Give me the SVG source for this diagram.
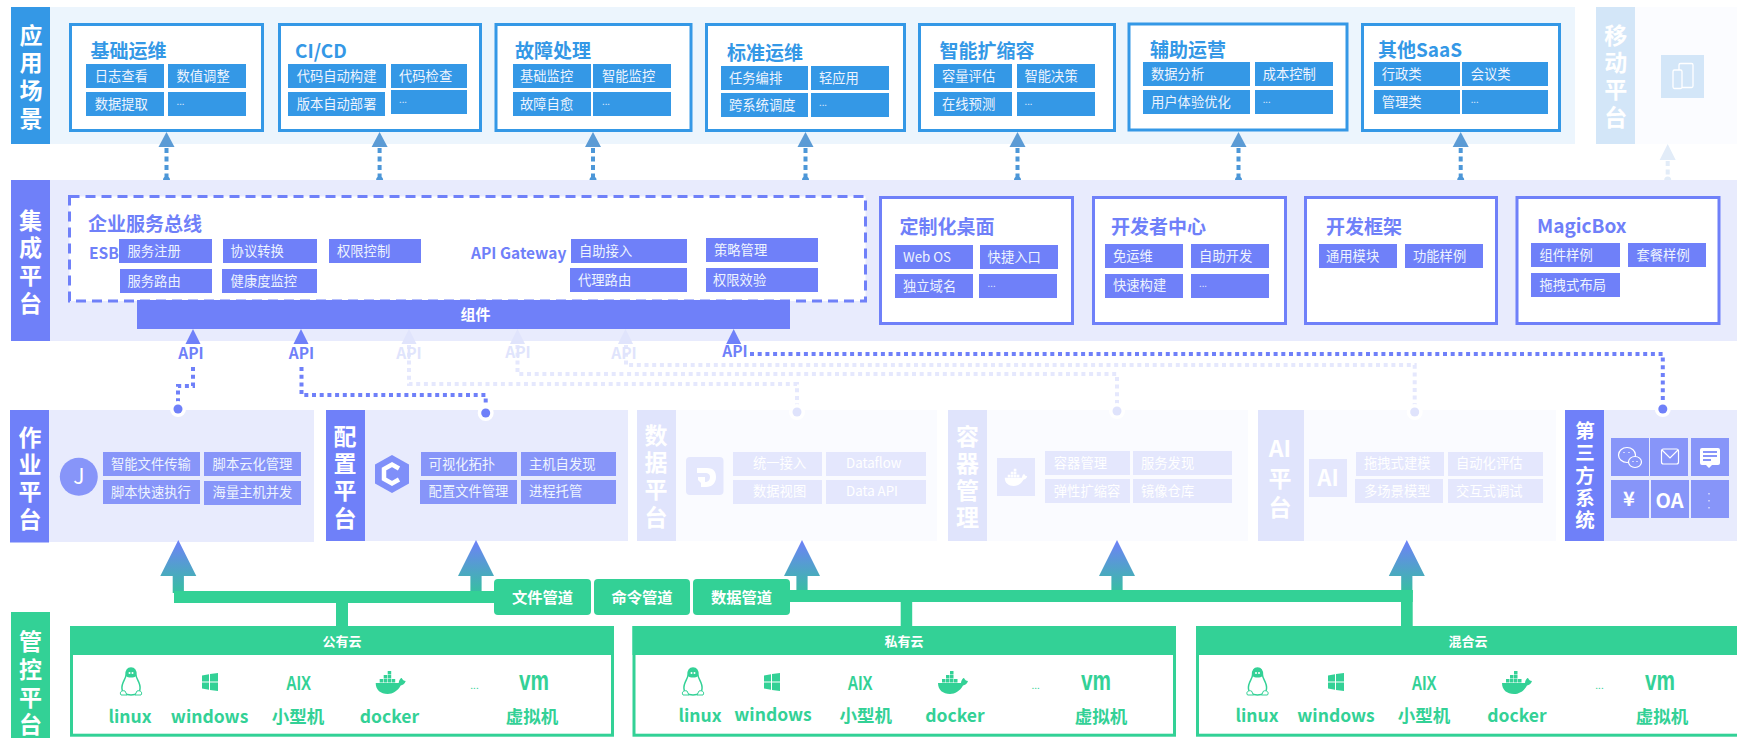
<svg xmlns="http://www.w3.org/2000/svg" xmlns:xlink="http://www.w3.org/1999/xlink" width="1737" height="738" viewBox="0 0 1737 738">
<style>
text{font-family:"Noto Sans CJK SC","Noto Sans",sans-serif}
.side{font-size:23px;font-weight:700;fill:#fff}
.v{writing-mode:vertical-rl;text-orientation:upright}
.sub{font-size:13.3px;fill:#eef4fe}
.el{font-size:9.500px;fill:#eef4fe}
.ttl{font-size:19px;font-weight:700}
.b{fill:#3498e6}.bt{fill:#3498e6}.bbox{fill:#fff;stroke:#3498e6;stroke-width:3}
.p{fill:#6f80f9}.pbox{fill:#fff;stroke:#6f80f9;stroke-width:3}.pt{fill:#6f80f9}
.l{fill:#8795f9}
.f{fill:#e4e7fd}.ft{font-size:13.3px;fill:#fff}
.band{fill:#e8ebfd}.faint{fill:#fafbff}.fl{fill:#e0e4fc}
.g{fill:#33d196}.gt{font-size:17.5px;font-weight:700;fill:#33d196;text-anchor:middle}
.gh{font-size:13px;font-weight:700;fill:#fff;text-anchor:middle}
.pipe{font-size:15.3px;font-weight:700;fill:#fff;text-anchor:middle}
.aix{font-family:"Liberation Sans",sans-serif;font-size:20px;font-weight:700;fill:#33d196;text-anchor:middle}
.vm{font-family:"Liberation Sans",sans-serif;font-size:28px;font-weight:700;fill:#33d196;text-anchor:middle}
.api{font-size:15.500px;font-weight:700;text-anchor:middle}
.gw{font-size:15.500px;font-weight:700;fill:#6f80f9}
.dot{fill:none;stroke-width:4;stroke-dasharray:4 3.700}
.dotb{fill:none;stroke-width:4;stroke-dasharray:5 3.500}
</style>
<defs>
<linearGradient id="grad" x1="0" y1="0" x2="0" y2="1"><stop offset="0" stop-color="#6f80f9"/><stop offset="1" stop-color="#36c0a0"/></linearGradient>
<path id="bigArrow" d="M0 0L18 36H5.6V53H-5.6V36H-18Z" fill="url(#grad)"/>
<path id="upB" d="M0 0L8 15H-8Z" fill="#5b9bd5"/>
<path id="upP" d="M0 0L7.500 15H-7.500Z"/>
<path id="dome" d="M-3.500 0A3.500 3.500 0 0 1 3.500 0Z"/>
<g id="tux"><path d="M0 0C-4 0-5 3-5 7C-5 11-10 15-9 21C-9 24-6 27 0 27C6 27 9 24 9 21C10 15 5 11 5 7C5 3 4 0 0 0Z" fill="#fff" stroke="#33d196" stroke-width="1.500"/><path d="M0 0C-4 0-5 3-5 8C-3 10 3 10 5 8C5 3 4 0 0 0Z" fill="#33d196"/><circle cx="-1.500" cy="5" r="1" fill="#fff"/><circle cx="1.500" cy="5" r="1" fill="#fff"/><path d="M-10 27C-12 24-9 22-6 23L-4 27ZM10 27C12 24 9 22 6 23L4 27Z" fill="#fff" stroke="#33d196"/></g>
<path id="win" d="M-8-6.500L-1-7.700V-.5H-8ZM0-7.900L8-9V-.5H0ZM-8 .5H-1V7.700L-8 6.500ZM0 .5H8V9L0 7.900Z" fill="#33d196"/>
<g id="dock"><path d="M-15 1H8C8-2 10-4 11-4C12-2 13-1 15-1C14 2 12 3 10 3.500C7 9 2 12-3 12C-10 12-15 8-15 1Z"/><rect x="-11" y="-3" width="3.500" height="3.500"/><rect x="-7" y="-3" width="3.500" height="3.500"/><rect x="-3" y="-3" width="3.500" height="3.500"/><rect x="1" y="-3" width="3.500" height="3.500"/><rect x="-7" y="-7" width="3.500" height="3.500"/><rect x="-3" y="-7" width="3.500" height="3.500"/><rect x="-3" y="-11" width="3.500" height="3.500"/></g>
</defs>
<rect width="1737" height="738" fill="#fff"/>

<g id="layer-app">
<rect x="50" y="7" width="1525" height="137" fill="#ecf5fd"/>
<rect x="11" y="7" width="39" height="137" class="b"/>
<text class="side v" x="31" y="23.500" letter-spacing="4.600">应用场景</text>
</g>
<g id="node-jichu">
<rect class="bbox" x="70.500" y="24.500" width="192" height="106"/>
<text class="ttl bt" x="90.600" y="58">基础运维</text>
<rect class="b" x="86" y="64" width="78" height="24"/><rect class="b" x="168" y="64" width="78" height="24"/><rect class="b" x="86" y="92" width="78" height="24"/><rect class="b" x="168" y="92" width="78" height="24"/>
<text class="sub" x="94.700" y="81">日志查看</text><text class="sub" x="176.500" y="81">数值调整</text><text class="sub" x="94.700" y="109">数据提取</text><text class="el" x="176.500" y="105">...</text>
</g>
<g id="node-cicd">
<rect class="bbox" x="279.500" y="24.500" width="201" height="106"/>
<text class="ttl bt" x="295" y="58">CI/CD</text>
<rect class="b" x="288" y="64" width="98" height="24"/><rect class="b" x="391" y="64" width="76" height="24"/><rect class="b" x="288" y="92" width="97" height="24"/><rect class="b" x="391" y="90" width="76" height="24"/>
<text class="sub" x="296.700" y="81">代码自动构建</text><text class="sub" x="399" y="81">代码检查</text><text class="sub" x="296.700" y="109">版本自动部署</text><text class="el" x="399" y="103">...</text>
</g>
<g id="node-guzhang">
<rect class="bbox" x="496" y="24.500" width="195" height="106"/>
<text class="ttl bt" x="515" y="58">故障处理</text>
<rect class="b" x="513" y="64" width="78" height="24"/><rect class="b" x="593" y="64" width="78" height="24"/><rect class="b" x="513" y="92" width="78" height="24"/><rect class="b" x="593" y="92" width="78" height="24"/>
<text class="sub" x="520" y="81">基础监控</text><text class="sub" x="602" y="81">智能监控</text><text class="sub" x="520" y="109">故障自愈</text><text class="el" x="602" y="105">...</text>
</g>
<g id="node-biaozhun">
<rect class="bbox" x="706.500" y="24.500" width="198" height="106"/>
<text class="ttl bt" x="727" y="60">标准运维</text>
<rect class="b" x="721" y="66" width="87" height="24"/><rect class="b" x="811" y="66" width="78" height="24"/><rect class="b" x="721" y="93" width="87" height="24"/><rect class="b" x="811" y="93" width="78" height="24"/>
<text class="sub" x="729" y="83">任务编排</text><text class="sub" x="819" y="83">轻应用</text><text class="sub" x="729" y="110">跨系统调度</text><text class="el" x="819" y="106">...</text>
</g>
<g id="node-kuosuo">
<rect class="bbox" x="919.500" y="24.500" width="195" height="106"/>
<text class="ttl bt" x="939.500" y="58">智能扩缩容</text>
<rect class="b" x="934" y="64" width="78" height="24"/><rect class="b" x="1017" y="64" width="78" height="24"/><rect class="b" x="934" y="92" width="78" height="24"/><rect class="b" x="1017" y="92" width="78" height="24"/>
<text class="sub" x="942" y="81">容量评估</text><text class="sub" x="1024.500" y="81">智能决策</text><text class="sub" x="942" y="109">在线预测</text><text class="el" x="1024.500" y="105">...</text>
</g>
<g id="node-fuzhu">
<rect class="bbox" x="1129" y="24" width="218" height="106"/>
<text class="ttl bt" x="1150" y="57">辅助运营</text>
<rect class="b" x="1143" y="62" width="107" height="24"/><rect class="b" x="1255" y="62" width="78" height="24"/><rect class="b" x="1143" y="90" width="107" height="24"/><rect class="b" x="1255" y="90" width="78" height="24"/>
<text class="sub" x="1151" y="79">数据分析</text><text class="sub" x="1262.700" y="79">成本控制</text><text class="sub" x="1151" y="107">用户体验优化</text><text class="el" x="1262.700" y="103">...</text>
</g>
<g id="node-saas">
<rect class="bbox" x="1362.500" y="24.500" width="197" height="106"/>
<text class="ttl bt" x="1378" y="57">其他SaaS</text>
<rect class="b" x="1374" y="62" width="86" height="24"/><rect class="b" x="1462" y="62" width="86" height="24"/><rect class="b" x="1374" y="90" width="86" height="24"/><rect class="b" x="1462" y="90" width="86" height="24"/>
<text class="sub" x="1381.700" y="79">行政类</text><text class="sub" x="1470.700" y="79">会议类</text><text class="sub" x="1381.700" y="107">管理类</text><text class="el" x="1470.700" y="103">...</text>
</g>
<g id="node-mobile">
<rect x="1635" y="7" width="102" height="137" fill="#fbfcff"/>
<rect x="1596" y="7" width="39" height="137" fill="#d3e6f8"/>
<text class="side v" x="1615.700" y="23.500" letter-spacing="4.300">移动平台</text>
<rect x="1661" y="55" width="43" height="43" fill="#d3e6f8"/>
<rect x="1679" y="63.500" width="14" height="24" rx="1.500" fill="none" stroke="#fff" stroke-width="1.300"/>
<rect x="1673" y="70" width="9" height="18.500" rx="1.500" fill="#d3e6f8" stroke="#fff" stroke-width="1.300"/>
</g>

<g id="layer-integration">
<rect x="50" y="180" width="1687" height="161" class="band"/>
<rect x="11" y="180" width="39" height="161" class="p"/>
<text class="side v" x="30.600" y="208.500" letter-spacing="4.600">集成平台</text>
</g>
<g id="node-esb">
<rect x="69.500" y="196.500" width="796" height="104.500" fill="#fff" stroke="#6f80f9" stroke-width="3" stroke-dasharray="10 6"/>
<text class="ttl pt" x="88" y="230.500">企业服务总线</text>
<text class="gw" x="89" y="259">ESB</text>
<text class="gw" x="471" y="259">API Gateway</text>
<rect class="p" x="119" y="239" width="93" height="24"/><rect class="p" x="223" y="239" width="94" height="24"/><rect class="p" x="329" y="239" width="92" height="24"/><rect class="p" x="120" y="269" width="92" height="24"/><rect class="p" x="222" y="269" width="95" height="24"/>
<rect class="p" x="571" y="239" width="116" height="24"/><rect class="p" x="570" y="268" width="117" height="24"/><rect class="p" x="706" y="238" width="112" height="24"/><rect class="p" x="706" y="268" width="112" height="24"/>
<text class="sub" x="127.500" y="256">服务注册</text><text class="sub" x="230.600" y="256">协议转换</text><text class="sub" x="337" y="256">权限控制</text><text class="sub" x="127.500" y="286">服务路由</text><text class="sub" x="230.600" y="286">健康度监控</text>
<text class="sub" x="579" y="256">自助接入</text><text class="sub" x="578" y="285">代理路由</text><text class="sub" x="714" y="255">策略管理</text><text class="sub" x="713" y="285">权限效验</text>
</g>
<g id="node-zujian">
<rect class="p" x="137" y="300" width="653" height="29"/>
<text x="475.500" y="320" font-size="15" font-weight="700" fill="#fff" text-anchor="middle">组件</text>
</g>
<g id="node-desktop">
<rect class="pbox" x="880.500" y="197.500" width="192" height="126"/>
<text class="ttl pt" x="899.600" y="234">定制化桌面</text>
<rect class="p" x="895" y="245" width="78" height="24"/><rect class="p" x="980" y="245" width="78" height="24"/><rect class="p" x="895" y="274" width="78" height="24"/><rect class="p" x="979" y="274" width="78" height="24"/>
<text class="sub" x="903" y="262">Web OS</text><text class="sub" x="987.600" y="262">快捷入口</text><text class="sub" x="903" y="291">独立域名</text><text class="el" x="987.600" y="287">...</text>
</g>
<g id="node-dev">
<rect class="pbox" x="1093.500" y="197.500" width="192" height="126"/>
<text class="ttl pt" x="1111" y="234">开发者中心</text>
<rect class="p" x="1105" y="244" width="78" height="24"/><rect class="p" x="1191" y="244" width="78" height="24"/><rect class="p" x="1105" y="274" width="78" height="24"/><rect class="p" x="1191" y="274" width="78" height="24"/>
<text class="sub" x="1113" y="261">免运维</text><text class="sub" x="1199" y="261">自助开发</text><text class="sub" x="1113" y="290">快速构建</text><text class="el" x="1199" y="287">...</text>
</g>
<g id="node-framework">
<rect class="pbox" x="1305.500" y="197.500" width="191" height="126"/>
<text class="ttl pt" x="1326" y="234">开发框架</text>
<rect class="p" x="1319" y="244" width="78" height="24"/><rect class="p" x="1405" y="244" width="78" height="24"/>
<text class="sub" x="1326" y="261">通用模块</text><text class="sub" x="1413" y="261">功能样例</text>
</g>
<g id="node-magicbox">
<rect class="pbox" x="1517" y="197.500" width="202" height="126"/>
<text class="ttl pt" x="1537" y="233">MagicBox</text>
<rect class="p" x="1531" y="243" width="89" height="24"/><rect class="p" x="1628" y="243" width="78" height="24"/><rect class="p" x="1531" y="273" width="89" height="24"/>
<text class="sub" x="1539.500" y="260">组件样例</text><text class="sub" x="1636.500" y="260">套餐样例</text><text class="sub" x="1539.500" y="290">拖拽式布局</text>
</g>

<g id="node-job">
<rect x="49" y="410" width="265" height="132" class="band"/>
<rect x="10" y="410" width="39" height="132.500" class="p"/>
<text class="side v" x="30" y="425.500" letter-spacing="4.300">作业平台</text>
<circle cx="78.800" cy="476.700" r="19" class="l"/>
<text x="78.800" y="484" font-size="21" fill="#fff" text-anchor="middle">J</text>
<rect class="l" x="103" y="452" width="97" height="24"/><rect class="l" x="204" y="452" width="97" height="24"/><rect class="l" x="103" y="480" width="97" height="24"/><rect class="l" x="204" y="481" width="97" height="24"/>
<text class="sub" x="111" y="469">智能文件传输</text><text class="sub" x="212.600" y="469">脚本云化管理</text><text class="sub" x="111" y="497">脚本快速执行</text><text class="sub" x="212.600" y="497">海量主机并发</text>
</g>
<g id="node-config">
<rect x="365" y="410" width="263" height="131" class="band"/>
<rect x="326" y="410" width="39" height="131" class="p"/>
<text class="side v" x="345" y="424.500" letter-spacing="4.300">配置平台</text>
<path d="M392 455L409 464.500V483.500L392 493L375 483.500V464.500Z" fill="#7f8ff9"/>
<path d="M399 468.500L392 464.500L384 469V479L392 483.500L399 479.500" fill="none" stroke="#fff" stroke-width="4.500"/>
<rect class="l" x="421" y="452" width="96" height="24"/><rect class="l" x="521" y="452" width="95" height="24"/><rect class="l" x="420" y="480" width="97" height="24"/><rect class="l" x="521" y="480" width="95" height="24"/>
<text class="sub" x="428.600" y="469">可视化拓扑</text><text class="sub" x="529" y="469">主机自发现</text><text class="sub" x="428.600" y="496">配置文件管理</text><text class="sub" x="529" y="496">进程托管</text>
</g>
<g id="node-data">
<rect x="676" y="410" width="261" height="131" class="faint"/>
<rect x="637" y="410" width="39" height="131" class="fl"/>
<text class="side v" x="656" y="423.500" letter-spacing="4.300">数据平台</text>
<rect x="686" y="457" width="37.500" height="38" rx="4" class="f"/>
<path d="M697 468H707C714 468 716 472 716 477C716 483 712 487 706 487H701V483L698 480V477H705V482C708 482 710 480 710 477C710 474 708 473 705 473H697Z" fill="#fff"/>
<rect class="f" x="733" y="452" width="89" height="24"/><rect class="f" x="826" y="452" width="100" height="24"/><rect class="f" x="733" y="480" width="89" height="24"/><rect class="f" x="826" y="480" width="100" height="24"/>
<text class="ft" x="753" y="467.500">统一接入</text><text class="ft" x="846" y="467.500">Dataflow</text><text class="ft" x="753" y="496">数据视图</text><text class="ft" x="846" y="496">Data API</text>
</g>
<g id="node-container">
<rect x="987" y="410" width="261" height="131" class="faint"/>
<rect x="948" y="410" width="39" height="131" class="fl"/>
<text class="side v" x="967.600" y="424.500" letter-spacing="4">容器管理</text>
<rect x="997" y="458" width="38" height="38" class="f"/>
<use xlink:href="#dock" href="#dock" transform="translate(1016,477) scale(.75)" fill="#fff"/>
<rect class="f" x="1045" y="451" width="85" height="24"/><rect class="f" x="1133" y="451" width="99" height="24"/><rect class="f" x="1045" y="479" width="85" height="24"/><rect class="f" x="1133" y="479" width="99" height="24"/>
<text class="ft" x="1053.800" y="467.500">容器管理</text><text class="ft" x="1141" y="467.500">服务发现</text><text class="ft" x="1053.800" y="495.500">弹性扩缩容</text><text class="ft" x="1141" y="495.500">镜像仓库</text>
</g>
<g id="node-ai">
<rect x="1304" y="410" width="252" height="131" class="faint"/>
<rect x="1258" y="410" width="46" height="131" class="fl"/>
<text class="side" x="1280" y="457" text-anchor="middle">AI</text>
<text class="side v" x="1280" y="466.500" letter-spacing="6">平台</text>
<rect x="1309" y="459" width="38" height="38" class="f"/>
<text x="1328" y="486" font-size="22" font-weight="700" fill="#fff" text-anchor="middle">AI</text>
<rect class="f" x="1356" y="452" width="88" height="24"/><rect class="f" x="1448" y="452" width="95" height="24"/><rect class="f" x="1355" y="479" width="88" height="24"/><rect class="f" x="1448" y="479" width="95" height="24"/>
<text class="ft" x="1364" y="468">拖拽式建模</text><text class="ft" x="1456" y="468">自动化评估</text><text class="ft" x="1364" y="496">多场景模型</text><text class="ft" x="1456" y="496">交互式调试</text>
</g>
<g id="node-third">
<rect x="1604" y="410" width="133" height="131" class="band"/>
<rect x="1565" y="410" width="39" height="131" class="p"/>
<text class="side v" x="1585" y="421" letter-spacing="2.700" style="font-size:19.500px">第三方系统</text>
<rect class="l" x="1611" y="438" width="38" height="38"/><rect class="l" x="1650" y="438" width="38" height="38"/><rect class="l" x="1691" y="438" width="38" height="38"/><rect class="l" x="1611" y="480" width="38" height="38"/><rect class="l" x="1651" y="480" width="38" height="38"/><rect class="l" x="1691" y="480" width="38" height="38"/>
<ellipse cx="1627" cy="455" rx="8.500" ry="7.500" fill="none" stroke="#fff" stroke-width="1.200"/>
<ellipse cx="1635" cy="462" rx="6.500" ry="5.500" class="l" stroke="#fff" stroke-width="1.200"/>
<path d="M1624 452v1M1629 452v1M1633 461v1M1637 461v1" stroke="#fff" stroke-width="1.200"/>
<rect x="1661.500" y="449" width="17" height="15" rx="2" fill="none" stroke="#fff" stroke-width="1.200"/><path d="M1662 450L1670 458L1678 450" fill="none" stroke="#fff" stroke-width="1.200"/>
<path d="M1702 448H1718Q1720 448 1720 450V463Q1720 465 1718 465H1712L1709 468L1706 465H1702Q1700 465 1700 463V450Q1700 448 1702 448Z" fill="#fff"/>
<path d="M1703 452H1717M1703 456H1717M1703 460H1711" stroke="#8795f9" stroke-width="2"/>
<text x="1629" y="506" font-size="20" font-weight="700" fill="#fff" text-anchor="middle">¥</text>
<text x="1669.500" y="508" font-size="20" font-weight="700" fill="#fff" text-anchor="middle">OA</text>
<path d="M1709 493v1.500M1709 500v1.500M1709 507v1.500" stroke="#fff" stroke-width="1"/>
</g>

<g id="connectors">
<g id="top-dots">
<path class="dotb" stroke="#4d97d8" d="M166.500 148V178M379.600 148V178M593 148V178M805.500 148V178M1017.500 148V178M1238.500 148V178M1460.700 148V178"/>
<path class="dotb" stroke="#e2ecf8" d="M1667.700 161V178"/>
<g fill="#4d97d8"><use href="#dome" x="166.500" y="180"/><use href="#dome" x="379.600" y="180"/><use href="#dome" x="593" y="180"/><use href="#dome" x="805.500" y="180"/><use href="#dome" x="1017.500" y="180"/><use href="#dome" x="1238.500" y="180"/><use href="#dome" x="1460.700" y="180"/></g>
<use href="#dome" x="1667.700" y="180" fill="#e2ecf8"/>
</g>
<use href="#upB" x="166.500" y="132"/><use href="#upB" x="379.600" y="132"/><use href="#upB" x="593" y="132"/><use href="#upB" x="805.500" y="132"/><use href="#upB" x="1017.500" y="132"/><use href="#upB" x="1238.500" y="132"/><use href="#upB" x="1460.700" y="132"/>
<path d="M1667.700 144L1675.700 160H1659.700Z" fill="#e2ecf8"/>

<g id="faint-links">
<path class="dot" stroke="#e5e8fd" d="M409 345V384H797V412"/>
<path class="dot" stroke="#e5e8fd" d="M517.500 345V374H1117V411"/>
<path class="dot" stroke="#e5e8fd" d="M626 345V365H1414.700V412"/>
<circle cx="797" cy="412" r="8" fill="#fff"/><circle cx="797" cy="412" r="4.500" fill="#dfe3fc"/>
<circle cx="1117" cy="411" r="8" fill="#fff"/><circle cx="1117" cy="411" r="4.500" fill="#dfe3fc"/>
<circle cx="1414.700" cy="412" r="8" fill="#fff"/><circle cx="1414.700" cy="412" r="4.500" fill="#dfe3fc"/>
<use href="#upP" x="409" y="329" fill="#e0e4fc"/><use href="#upP" x="517.500" y="329" fill="#e0e4fc"/><use href="#upP" x="625.500" y="329" fill="#e0e4fc"/>
<text class="api" x="409" y="359" fill="#e0e4fc">API</text><text class="api" x="518" y="358" fill="#e0e4fc">API</text><text class="api" x="624" y="359" fill="#e0e4fc">API</text>
</g>
<g id="solid-links">
<path class="dot" stroke="#6f80f9" d="M193 367V386H178V402"/>
<path class="dot" stroke="#6f80f9" d="M301.500 367V395H485.700V405"/>
<path class="dot" stroke="#6f80f9" d="M750 354H1662.800V405"/>
<circle cx="178" cy="409" r="8" fill="#fff"/><circle cx="178" cy="409" r="4.500" fill="#6f80f9"/>
<circle cx="485.700" cy="413" r="8" fill="#fff"/><circle cx="485.700" cy="413" r="4.500" fill="#6f80f9"/>
<circle cx="1662.800" cy="409" r="8" fill="#fff"/><circle cx="1662.800" cy="409" r="4.500" fill="#6f80f9"/>
<use href="#upP" x="193" y="329" fill="#6f80f9"/><use href="#upP" x="301" y="329" fill="#6f80f9"/><use href="#upP" x="733.700" y="329" fill="#6f80f9"/>
<text class="api" x="191" y="359" fill="#6f80f9">API</text><text class="api" x="301.500" y="359" fill="#6f80f9">API</text><text class="api" x="735" y="357" fill="#6f80f9">API</text>
</g>
<g id="pipes">
<use href="#bigArrow" x="178.300" y="540"/><use href="#bigArrow" x="476" y="540"/><use href="#bigArrow" x="802" y="540"/><use href="#bigArrow" x="1117" y="540"/><use href="#bigArrow" x="1406.800" y="540"/>
<rect class="g" x="174" y="591" width="320" height="12"/>
<rect class="g" x="790" y="590" width="622.700" height="12"/>
<rect class="g" x="336" y="603" width="12" height="23"/>
<rect class="g" x="900.700" y="602" width="11.500" height="24"/>
<rect class="g" x="1401" y="590" width="11.700" height="36"/>
</g>
</g>
<g id="node-pipes">
<rect class="g" x="494" y="579" width="97" height="36" rx="4"/><rect class="g" x="594" y="579" width="96" height="36" rx="4"/><rect class="g" x="693" y="579" width="97" height="36" rx="4"/>
<text class="pipe" x="542.500" y="603">文件管道</text><text class="pipe" x="642" y="603">命令管道</text><text class="pipe" x="741.500" y="603">数据管道</text>
</g>

<g id="node-control">
<rect x="11" y="612" width="39" height="126" class="g"/>
<text class="side v" x="30.400" y="629.500" letter-spacing="4.900">管控平台</text>
</g>
<g id="node-public">
<rect x="71.500" y="627.500" width="541" height="107.700" fill="#fff" stroke="#33d196" stroke-width="3"/>
<rect class="g" x="70" y="626" width="544" height="29"/>
<text class="gh" x="342" y="646">公有云</text>
<use href="#tux" x="131" y="668"/><use href="#win" x="210" y="682"/><text class="aix" x="298.500" y="690" textLength="25" lengthAdjust="spacingAndGlyphs">AIX</text><use href="#dock" transform="translate(390.700,682)" fill="#33d196"/><text x="474.500" y="689" font-size="10" fill="#33d196" text-anchor="middle">...</text><text class="vm" x="534" y="690" textLength="30" lengthAdjust="spacingAndGlyphs">vm</text>
<text class="gt" x="130" y="723">linux</text><text class="gt" x="209.600" y="723">windows</text><text class="gt" x="298" y="723">小型机</text><text class="gt" x="389.500" y="723">docker</text><text class="gt" x="532" y="723">虚拟机</text>
</g>
<g id="node-private">
<rect x="634" y="627.500" width="540.500" height="107.700" fill="#fff" stroke="#33d196" stroke-width="3"/>
<rect class="g" x="632.500" y="626" width="543.500" height="29"/>
<text class="gh" x="904" y="646">私有云</text>
<use href="#tux" x="693" y="668"/><use href="#win" x="772" y="682"/><text class="aix" x="860" y="690" textLength="25" lengthAdjust="spacingAndGlyphs">AIX</text><use href="#dock" transform="translate(953,682)" fill="#33d196"/><text x="1035.700" y="689" font-size="10" fill="#33d196" text-anchor="middle">...</text><text class="vm" x="1096" y="690" textLength="30" lengthAdjust="spacingAndGlyphs">vm</text>
<text class="gt" x="700" y="722">linux</text><text class="gt" x="773" y="721">windows</text><text class="gt" x="865.700" y="722">小型机</text><text class="gt" x="955" y="722">docker</text><text class="gt" x="1101" y="723">虚拟机</text>
</g>
<g id="node-hybrid">
<rect x="1197.500" y="627.500" width="545" height="107.700" fill="#fff" stroke="#33d196" stroke-width="3"/>
<rect class="g" x="1196" y="626" width="541" height="29"/>
<text class="gh" x="1468" y="646">混合云</text>
<use href="#tux" x="1257.500" y="668"/><use href="#win" x="1336" y="682"/><text class="aix" x="1424" y="690" textLength="25" lengthAdjust="spacingAndGlyphs">AIX</text><use href="#dock" transform="translate(1517,682)" fill="#33d196"/><text x="1599.500" y="689" font-size="10" fill="#33d196" text-anchor="middle">...</text><text class="vm" x="1660" y="690" textLength="30" lengthAdjust="spacingAndGlyphs">vm</text>
<text class="gt" x="1257" y="722">linux</text><text class="gt" x="1336" y="722">windows</text><text class="gt" x="1424" y="722">小型机</text><text class="gt" x="1517" y="722">docker</text><text class="gt" x="1662" y="723">虚拟机</text>
</g>
</svg>
